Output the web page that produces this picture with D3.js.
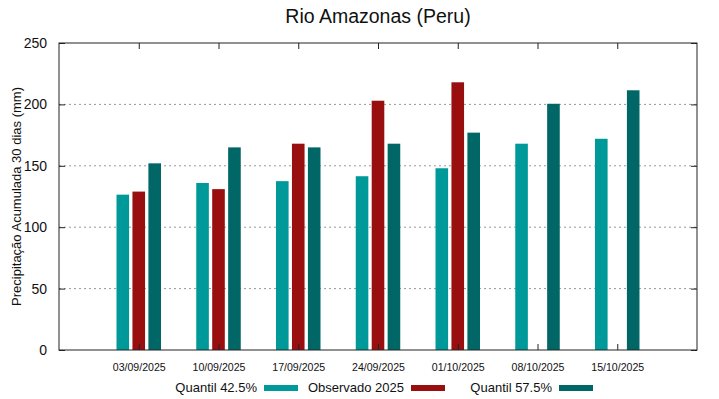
<!DOCTYPE html>
<html><head><meta charset="utf-8">
<script src="https://cdn.jsdelivr.net/npm/d3@7"></script>
<style>body{margin:0;background:#fff}svg{display:block;font-family:"Liberation Sans",Arial,sans-serif}</style>
</head><body>
<svg id="c" width="719" height="399"></svg>
<script>
const categories = ["03/09/2025","10/09/2025","17/09/2025","24/09/2025","01/10/2025","08/10/2025","15/10/2025"];
const q425 = [126.5, 136, 137.5, 141.5, 148, 168, 172];
const obs2025 = [129, 131, 168, 203, 218, null, null];
const q575 = [152, 165, 165, 168, 177, 200.5, 211.5];
const yTicks = [0, 50, 100, 150, 200, 250];
const seriesNames = ["Quantil 42.5%", "Observado 2025", "Quantil 57.5%"];
const colors = ["#009999", "#990e0e", "#006666"];
const series = [q425, obs2025, q575];

const svg = d3.select("#c");
const L = 59, R = 697, T = 43, B = 350;
const x = d3.scaleLinear().domain([-1, categories.length]).range([L, R]);
const y = d3.scaleLinear().domain([0, 250]).range([B, T]);

// grid
svg.append("g").selectAll("line").data(yTicks.filter(d => d > 0 && d < 250)).join("line")
  .attr("x1", L).attr("x2", R).attr("y1", d => y(d)).attr("y2", d => y(d))
  .attr("stroke", "#999").attr("stroke-width", 1).attr("stroke-dasharray", "2,3");

// bars
const offsets = [-0.2, 0, 0.2], bw = 0.158;
series.forEach((s, si) => {
  svg.append("g").selectAll("rect").data(s.map((v, i) => ({v, i})).filter(d => d.v != null)).join("rect")
    .attr("x", d => x(d.i + offsets[si] - bw / 2))
    .attr("width", d => x(bw) - x(0))
    .attr("y", d => y(d.v))
    .attr("height", d => y(0) - y(d.v))
    .attr("fill", colors[si]);
});

// axes with mirror ticks
const yl = svg.append("g").attr("transform", `translate(${L},0)`)
  .call(d3.axisLeft(y).tickValues(yTicks).tickSize(-6).tickPadding(12));
const yr = svg.append("g").attr("transform", `translate(${R},0)`)
  .call(d3.axisRight(y).tickValues(yTicks).tickSize(-6).tickFormat(""));
const xb = svg.append("g").attr("transform", `translate(0,${B})`)
  .call(d3.axisBottom(x).tickValues(d3.range(categories.length)).tickSize(-6).tickPadding(12).tickFormat(i => categories[i]));
const xt = svg.append("g").attr("transform", `translate(0,${T})`)
  .call(d3.axisTop(x).tickValues(d3.range(categories.length)).tickSize(-6).tickFormat(""));
[yl, yr, xb, xt].forEach(g => { g.select(".domain").remove(); g.selectAll("line").attr("stroke", "#222"); });
yl.selectAll("text").attr("font-size", 14).attr("fill", "#111").attr("font-family", "Liberation Sans, Arial, sans-serif");
xb.selectAll("text").attr("font-size", 10.6).attr("fill", "#111").attr("font-family", "Liberation Sans, Arial, sans-serif")
  .attr("dy", null).attr("y", 20.5);

svg.append("rect").attr("x", L).attr("y", T).attr("width", R - L).attr("height", B - T)
  .attr("fill", "none").attr("stroke", "#222").attr("stroke-width", 1);

// title
svg.append("text").attr("x", 378).attr("y", 23).attr("text-anchor", "middle")
  .attr("font-size", 19.5).attr("fill", "#111").text("Rio Amazonas (Peru)");

// y label
svg.append("text").attr("transform", `translate(21,${(T + B) / 2}) rotate(-90)`)
  .attr("text-anchor", "middle").attr("font-size", 13).attr("fill", "#111")
  .text("Precipitação Acumulada 30 dias (mm)");

// legend
const legX = [257, 404, 552];
seriesNames.forEach((n, i) => {
  svg.append("text").attr("x", legX[i]).attr("y", 392).attr("text-anchor", "end")
    .attr("font-size", 13).attr("fill", "#111").text(n);
  svg.append("rect").attr("x", legX[i] + 7).attr("y", 385).attr("width", 34).attr("height", 6).attr("fill", colors[i]);
});
</script>
</body></html>
